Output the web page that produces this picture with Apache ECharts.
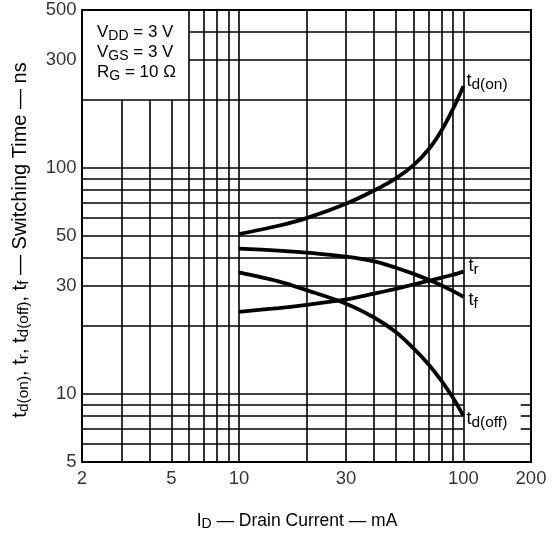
<!DOCTYPE html>
<html>
<head>
<meta charset="utf-8">
<script src="https://cdn.jsdelivr.net/npm/echarts@6/dist/echarts.min.js"></script>
<style>html,body{margin:0;padding:0;background:#fff;}#c{width:554px;height:537px;}</style>
</head>
<body>
<div id="c"></div>
<script>
// ---- data ----
const currents = [10, 15, 20, 30, 40, 50, 60, 70, 80, 90, 100];
const tdOn  = [51, 55.5, 60, 69.5, 79.5, 90, 103, 121, 147, 183, 230];
const tf    = [44, 43.1, 42.2, 40.5, 38.6, 36.2, 34.0, 32.0, 30.2, 28.5, 26.9];
const tr    = [23.1, 24, 24.8, 26.2, 27.8, 29.2, 30.5, 31.7, 32.7, 33.7, 34.8];
const tdOff = [34.5, 31.5, 28.8, 25.1, 21.8, 18.8, 15.9, 13.5, 11.4, 9.6, 8.0];
const xTickLabels = [2, 5, 10, 30, 100, 200];
const yTickLabels = [5, 10, 30, 50, 100, 300, 500];
const xGridFull = [6, 7, 8, 9, 10, 20, 30, 40, 50, 60, 70, 80, 90, 100];
const xGridPartial = [3, 4, 5];          // stop at the condition box
const yGridFull = [6, 10, 20, 30, 40, 50, 60, 70, 80, 90, 100, 200];
const yGridPartial = [300, 400];         // start right of the condition box
const yGridSplit = [7, 8, 9];            // broken by the td(off) label
const xMin = 2, xMax = 200, yMin = 5, yMax = 500;
const boxX = 6, boxY = 200, splitA = 100, splitB = 180;

const FONT = '"Liberation Sans", Arial, Helvetica, sans-serif';
const boxRich = {
  t: { fontSize: 17, fontFamily: FONT, color: '#000', lineHeight: 20 },
  s: { fontSize: 14, fontFamily: FONT, color: '#000', lineHeight: 20, padding: [7, 0, 0, 0] }
};
const curveRich = {
  t: { fontSize: 18, fontFamily: FONT, color: '#000', lineHeight: 22 },
  s: { fontSize: 15.5, fontFamily: FONT, color: '#000', lineHeight: 22, padding: [8, 0, 0, 0] }
};

const gridSegs = [];
xGridFull.forEach(v => gridSegs.push([{coord: [v, yMin]}, {coord: [v, yMax]}]));
xGridPartial.forEach(v => gridSegs.push([{coord: [v, yMin]}, {coord: [v, boxY]}]));
yGridFull.forEach(v => gridSegs.push([{coord: [xMin, v]}, {coord: [xMax, v]}]));
yGridPartial.forEach(v => gridSegs.push([{coord: [boxX, v]}, {coord: [xMax, v]}]));
yGridSplit.forEach(v => {
  gridSegs.push([{coord: [xMin, v]}, {coord: [splitA, v]}]);
  gridSegs.push([{coord: [splitB, v]}, {coord: [xMax, v]}]);
});

function curve(name, vals, labelFmt, offset) {
  return {
    name: name, type: 'line', smooth: 0.3, symbol: 'none', z: 5,
    data: currents.map((x, i) => [x, vals[i]]),
    lineStyle: { color: '#000', width: 3.8 },
    endLabel: { show: true, formatter: labelFmt, rich: curveRich, offset: offset, distance: 3 },
    animation: false
  };
}

const titleRich = {
  u: { fontSize: 20, fontFamily: FONT, color: '#000', lineHeight: 24 },
  v: { fontSize: 15.5, fontFamily: FONT, color: '#000', lineHeight: 24, padding: [8, 0, 0, 0] }
};

const chart = echarts.init(document.getElementById('c'));
chart.setOption({
  animation: false,
  backgroundColor: '#fff',
  grid: { left: 82, right: 23, top: 10, bottom: 75, show: true, borderColor: '#000', borderWidth: 2, backgroundColor: 'transparent', z: 10 },
  xAxis: { type: 'log', logBase: 10, min: xMin, max: xMax,
    axisLabel: { show: false }, axisTick: { show: false }, axisLine: { show: false }, splitLine: { show: false } },
  yAxis: { type: 'log', logBase: 10, min: yMin, max: yMax,
    axisLabel: { show: false }, axisTick: { show: false }, axisLine: { show: false }, splitLine: { show: false } },
  series: [
    { name: 'grid', type: 'line', data: [], silent: true,
      markLine: { silent: true, symbol: ['none', 'none'], label: { show: false }, animation: false,
        lineStyle: { color: '#000', width: 1.6, type: 'solid' }, emphasis: { disabled: true }, data: gridSegs } },
    curve('td(on)', tdOn, '{t|t}{s|d(on)}', [0, -5]),
    curve('tr', tr, '{t|t}{s|r}', [2, -6]),
    curve('tf', tf, '{t|t}{s|f}', [2, 3]),
    curve('td(off)', tdOff, '{t|t}{s|d(off)}', [0, 3]),
    { name: 'xlabels', type: 'scatter', clip: false, symbolSize: 1, itemStyle: { color: 'transparent' }, silent: true,
      data: xTickLabels.map(v => [v, yMin]),
      label: { show: true, position: 'bottom', distance: 7, formatter: p => String(p.value[0]),
        fontSize: 18.5, fontFamily: FONT, color: '#000' } },
    { name: 'ylabels', type: 'scatter', clip: false, symbolSize: 1, itemStyle: { color: 'transparent' }, silent: true,
      data: yTickLabels.map(v => [xMin, v]),
      label: { show: true, position: 'left', distance: 5, formatter: p => String(p.value[1]),
        fontSize: 18.5, fontFamily: FONT, color: '#000' } }
  ],
  graphic: [
    { type: 'text', left: 97, top: 22, z: 20,
      style: { text: '{t|V}{s|DD}{t| = 3 V}\n{t|V}{s|GS}{t| = 3 V}\n{t|R}{s|G}{t| = 10 Ω}', rich: boxRich } },
    { type: 'text', x: 297, y: 521, z: 20,
      style: { text: '{u|I}{v|D}{u| — Drain Current — mA}', align: 'center', verticalAlign: 'middle',
        rich: { u: { fontSize: 17.5, fontFamily: FONT, color: '#000', lineHeight: 22 },
                v: { fontSize: 14, fontFamily: FONT, color: '#000', lineHeight: 22, padding: [7, 0, 0, 0] } } } },
    { type: 'text', x: 20, y: 240, rotation: Math.PI / 2, z: 20,
      style: { text: '{u|t}{v|d(on)}{u|, t}{v|r}{u|, t}{v|d(off)}{u|, t}{v|f}{u| — Switching Time — ns}', align: 'center', verticalAlign: 'middle',
        rich: titleRich } }
  ]
});
</script>
</body>
</html>
